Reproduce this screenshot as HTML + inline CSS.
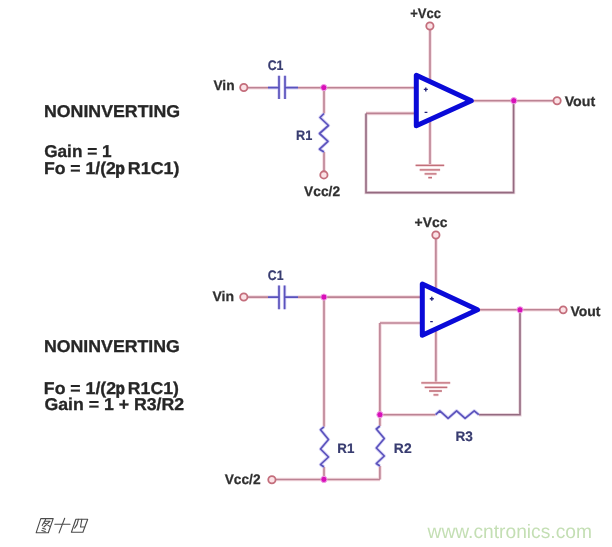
<!DOCTYPE html>
<html><head><meta charset="utf-8"><style>
html,body{margin:0;padding:0;background:#fff;width:612px;height:547px;overflow:hidden}
svg{display:block;text-rendering:geometricPrecision;will-change:transform;filter:blur(.5px)}
.t{font-family:"Liberation Sans",sans-serif;font-weight:bold;fill:#262626;stroke:#262626;stroke-width:.3}
.p{stroke-width:.7}
.l{font-family:"Liberation Sans",sans-serif;font-weight:bold;fill:#303030;stroke:#303030;stroke-width:.25}
.bl{font-family:"Liberation Sans",sans-serif;font-weight:bold;fill:#383c70;stroke:#383c70;stroke-width:.2}
</style></head><body>
<svg width="612" height="547" viewBox="0 0 612 547">
<defs>
<g id="wr" fill="none">
<!-- top circuit wires -->
<path d="M247.5 87.7H268M298 87.7H416.5"/>
<path d="M324 87.7V113.5M324 152V171.3"/>
<path d="M430 29.5V82M430 119.5V165.4"/>
<path d="M366 113.4H416.5"/>
<path d="M471 100.7H553.4"/>
<!-- bottom circuit wires -->
<path d="M247.5 297.1H268M298 297.1H422.5"/>
<path d="M324 297.1V426.8M324 467V479.4"/>
<path d="M379.9 323V426M379.9 466V479.4"/>
<path d="M379.9 323H422.5"/>
<path d="M275.5 479.5H379.9"/>
<path d="M379.9 414.7H435.6"/>
<path d="M477 309.8H559.6"/>
<path d="M435.9 238.6V291M435.9 328.5V382.9"/>
</g>
<g id="fbk" fill="none">
<path d="M366 113.4V192.6H513.6V100.7"/>
<path d="M478.8 414.7H520V309.8"/>
</g>
<g id="cmp" fill="none">
<path d="M268 87.7H279M285 87.7H298"/>
<path d="M279 75.8V99M285 75.8V99"/>
<path d="M324 113.5L320 117.5L328.5 125.5L319.5 133.5L328 141.3L319.5 149.2L324 152"/>
<path d="M268 297.1H279M284.6 297.1H298"/>
<path d="M279 285.4V309.2M284.6 285.4V309.2"/>
<path d="M324 426.8L320.5 429.7L328.5 439.5L320.5 449L328.5 457L320.5 464.5L324 467"/>
<path d="M379.9 426L376.3 429L384.3 438.5L376.3 448L384.3 456L376.3 463.5L379.9 466"/>
<path d="M435.6 414.7L439.8 410.8L448.1 418.3L456.6 410.8L465.1 418.3L474.2 410.8L478.8 414.7"/>
</g>
<g id="gnd" fill="none">
<path d="M415.6 165.4H444.2M419.7 169.9H440.1M424.6 173.9H436.5M428.3 177.6H432"/>
<path d="M421.3 382.9H450.2M424.7 387.4H447.3M429.1 391H441.9M433.5 394.9H438.4"/>
</g>
<g id="pins">
<circle cx="429.9" cy="26" r="3.65"/>
<circle cx="243.8" cy="87.5" r="3.65"/>
<circle cx="323.9" cy="174.9" r="3.65"/>
<circle cx="557.1" cy="100.7" r="3.65"/>
<circle cx="435.9" cy="235" r="3.65"/>
<circle cx="243.8" cy="297" r="3.65"/>
<circle cx="271.9" cy="479.7" r="3.65"/>
<circle cx="563.2" cy="309.8" r="3.5"/>
</g>
<g id="jn">
<circle cx="323.8" cy="87.6" r="3.1"/>
<circle cx="513.8" cy="100.7" r="3.1"/>
<circle cx="323.9" cy="297.1" r="3.1"/>
<circle cx="520" cy="309.8" r="3.1"/>
<circle cx="379.9" cy="414.7" r="3.1"/>
<circle cx="323.9" cy="479.4" r="3.1"/>
</g>
</defs>

<text class="t" x="43.95" y="117.08" font-size="17.10" textLength="136.17" lengthAdjust="spacingAndGlyphs">NONINVERTING</text>
<text class="t" x="44.18" y="156.50" font-size="17.10" textLength="67.37" lengthAdjust="spacingAndGlyphs">Gain = 1</text>
<text class="t" x="43.90" y="174.28" font-size="17.10" textLength="71.98" lengthAdjust="spacingAndGlyphs">Fo = 1/(2</text>
<text class="t p" x="115.21" y="174.28" font-size="17.10" textLength="9.62" lengthAdjust="spacingAndGlyphs">p</text>
<text class="t" x="127.83" y="174.28" font-size="17.10" textLength="51.65" lengthAdjust="spacingAndGlyphs">R1C1)</text>
<text class="t" x="43.90" y="352.48" font-size="17.10" textLength="136.01" lengthAdjust="spacingAndGlyphs">NONINVERTING</text>
<text class="t" x="43.89" y="393.58" font-size="17.10" textLength="72.17" lengthAdjust="spacingAndGlyphs">Fo = 1/(2</text>
<text class="t p" x="115.69" y="393.58" font-size="17.10" textLength="9.06" lengthAdjust="spacingAndGlyphs">p</text>
<text class="t" x="127.88" y="393.58" font-size="17.10" textLength="50.96" lengthAdjust="spacingAndGlyphs">R1C1)</text>
<text class="t" x="44.51" y="409.74" font-size="17.10" textLength="139.66" lengthAdjust="spacingAndGlyphs">Gain = 1 + R3/R2</text>
<text class="l" x="410.24" y="17.90" font-size="13.90" textLength="30.80" lengthAdjust="spacingAndGlyphs">+Vcc</text>
<text class="l" x="213.42" y="90.28" font-size="13.90" textLength="21.14" lengthAdjust="spacingAndGlyphs">Vin</text>
<text class="bl" x="267.64" y="70.32" font-size="13.80" textLength="15.81" lengthAdjust="spacingAndGlyphs">C1</text>
<text class="l" x="564.66" y="106.33" font-size="13.90" textLength="30.61" lengthAdjust="spacingAndGlyphs">Vout</text>
<text class="bl" x="296.10" y="139.69" font-size="13.80" textLength="16.32" lengthAdjust="spacingAndGlyphs">R1</text>
<text class="l" x="304.03" y="196.08" font-size="13.90" textLength="36.08" lengthAdjust="spacingAndGlyphs">Vcc/2</text>
<text class="l" x="414.61" y="227.00" font-size="13.90" textLength="32.82" lengthAdjust="spacingAndGlyphs">+Vcc</text>
<text class="bl" x="267.86" y="279.56" font-size="13.80" textLength="15.67" lengthAdjust="spacingAndGlyphs">C1</text>
<text class="l" x="212.45" y="300.86" font-size="13.90" textLength="21.62" lengthAdjust="spacingAndGlyphs">Vin</text>
<text class="l" x="570.40" y="315.63" font-size="13.90" textLength="30.08" lengthAdjust="spacingAndGlyphs">Vout</text>
<text class="bl" x="455.43" y="440.54" font-size="13.80" textLength="17.42" lengthAdjust="spacingAndGlyphs">R3</text>
<text class="bl" x="337.30" y="453.34" font-size="13.80" textLength="17.05" lengthAdjust="spacingAndGlyphs">R1</text>
<text class="bl" x="393.88" y="453.13" font-size="13.80" textLength="17.75" lengthAdjust="spacingAndGlyphs">R2</text>
<text class="l" x="224.64" y="484.37" font-size="13.90" textLength="35.92" lengthAdjust="spacingAndGlyphs">Vcc/2</text>


<!-- ===== WIRES ===== -->
<use href="#wr" stroke="#f5dbe1" stroke-width="3.6"/>
<use href="#fbk" stroke="#ead6de" stroke-width="3.4"/>
<use href="#wr" stroke="#bc8394" stroke-width="1.6"/>
<use href="#fbk" stroke="#946a80" stroke-width="1.6"/>
<use href="#gnd" stroke="#f3d2d6" stroke-width="2.6"/>
<use href="#gnd" stroke="#c06f7a" stroke-width="1.4"/>
<use href="#cmp" stroke="#d8d4f6" stroke-width="3.4" stroke-linejoin="round"/>
<use href="#cmp" stroke="#5a52bc" stroke-width="1.7" stroke-linejoin="round"/>

<!-- op amps -->
<path d="M416.3 75.3L416.3 125.7L471.3 100.8Z" fill="none" stroke="#0a0ad8" stroke-width="5" stroke-linejoin="round"/>
<path d="M422.3 284L422.3 335.2L477.5 309.7Z" fill="none" stroke="#0a0ad8" stroke-width="5" stroke-linejoin="round"/>
<g stroke="#22227a" stroke-width="1.4">
<path d="M423.8 89.4h4M425.8 87.4v4M424.6 112.4h2.8"/>
<path d="M429.8 298.8h4M431.8 296.8v4M430.2 321.6h2.6"/>
</g>

<use href="#pins" fill="#fbe2e6" stroke="#c46e7c" stroke-width="1.8"/>
<use href="#jn" fill="#d810b8" stroke="#f0a0e8" stroke-width="1"/>

<!-- ===== LABELS ===== -->


<!-- ===== CAPTION ===== -->
<g fill="none" stroke="#4a4a4a" stroke-width="1.1" stroke-linecap="round" stroke-linejoin="round">
<path d="M40.8 518.6H53.2L48.3 532.7H36.2Z"/>
<path d="M45.6 519.4L42.2 525.6M44.4 521.3H50L43.8 527M44.6 523L50.2 526.6M42.6 528.2L45.6 529.3M41.9 530.4L45.2 531.6"/>
<path d="M54.8 524.2H70M64.7 518.3L59.1 532.9"/>
<path d="M75.9 519.2H87.7L82.9 532.2H71.4Z"/>
<path d="M78.4 519.4Q77.6 525 74.6 528.2M81.8 519.4L80.5 527H84.6"/>
</g>
<text x="427.5" y="537.8" font-family="Liberation Sans" font-size="19.5" fill="#c4dfb4" textLength="164.5" lengthAdjust="spacingAndGlyphs">www.cntronics.com</text>
</svg>
</body></html>
